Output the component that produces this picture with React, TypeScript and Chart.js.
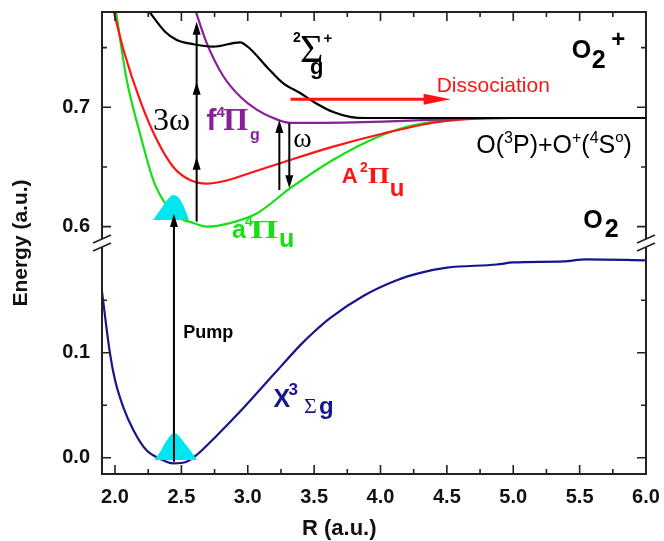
import React, { useEffect, useRef } from 'react';
import { Chart, registerables } from 'chart.js';

Chart.register(...registerables);

// ---------- axes ----------
const R_MIN = 1.902;
const R_MAX = 6.0;
const R_MAJOR_TICKS = [2.0, 2.5, 3.0, 3.5, 4.0, 4.5, 5.0, 5.5, 6.0];
const R_MINOR_TICKS = [2.25, 2.75, 3.25, 3.75, 4.25, 4.75, 5.25, 5.75];

const E_LOW_MIN = -0.0155;
const E_LOW_MAX = 0.2045;
const E_LOW_MAJOR = [0.0, 0.1];
const E_LOW_MINOR = [0.05, 0.15];

const E_HIGH_MIN = 0.5863;
const E_HIGH_MAX = 0.7798;
const E_HIGH_MAJOR = [0.6, 0.7];
const E_HIGH_MINOR = [0.65, 0.75];

// ---------- potential curves ----------
// X 3Σg (neutral O2 ground state, lower panel)
const X3SG_R = [1.9, 1.962, 2.0, 2.06, 2.138, 2.234, 2.339, 2.44, 2.54, 2.615, 2.766, 2.942, 3.1, 3.25, 3.394, 3.5, 3.62, 3.87, 4.122, 4.3, 4.5, 4.875, 5.0, 5.377, 5.55, 6.0];
const X3SG_E = [0.16, 0.0994, 0.074, 0.049, 0.0264, 0.0075, -0.001, -0.0053, -0.0038, 0.0026, 0.021, 0.044, 0.066, 0.087, 0.107, 0.12, 0.133, 0.154, 0.169, 0.176, 0.181, 0.184, 0.186, 0.187, 0.189, 0.188];

// a 4Πu (green)
const A4PU_R = [2.005, 2.088, 2.188, 2.288, 2.363, 2.44, 2.515, 2.565, 2.69, 2.866, 3.067, 3.318, 3.644, 3.896, 4.147, 4.398, 4.649, 5.0, 5.5, 6.0];
const A4PU_E = [0.782, 0.723, 0.678, 0.639, 0.622, 0.611, 0.6056, 0.604, 0.6, 0.603, 0.611, 0.632, 0.656, 0.671, 0.682, 0.688, 0.691, 0.691, 0.691, 0.691];

// A 2Πu (red)
const A2PU_R = [1.987, 2.064, 2.188, 2.314, 2.439, 2.565, 2.69, 2.816, 3.017, 3.268, 3.644, 4.02, 4.398, 4.649, 5.0, 5.5, 6.0];
const A2PU_E = [0.782, 0.748, 0.706, 0.673, 0.65, 0.639, 0.636, 0.638, 0.645, 0.654, 0.667, 0.678, 0.687, 0.69, 0.691, 0.691, 0.691];

// f 4Πg (purple)
const F4PG_R = [2.603, 2.69, 2.816, 2.942, 3.067, 3.192, 3.318, 3.52, 4.02, 4.52, 5.0, 6.0];
const F4PG_E = [0.782, 0.754, 0.726, 0.709, 0.698, 0.691, 0.687, 0.687, 0.688, 0.69, 0.691, 0.691];

// 2Σg+ (black)
const S2SG_R = [2.245, 2.377, 2.465, 2.59, 2.74, 2.942, 3.017, 3.142, 3.268, 3.394, 3.52, 3.644, 3.77, 3.896, 4.5, 5.0, 6.0];
const S2SG_E = [0.782, 0.7633, 0.7564, 0.7528, 0.7508, 0.7544, 0.749, 0.734, 0.72, 0.712, 0.703, 0.696, 0.692, 0.691, 0.691, 0.691, 0.691];

// vibrational wave packets (cyan)
const WP_LOW_R = [2.301, 2.339, 2.377, 2.414, 2.444, 2.475, 2.512, 2.565, 2.618];
const WP_LOW_E = [-0.0012, 0.0054, 0.014, 0.0207, 0.0235, 0.0216, 0.0159, 0.0073, -0.0022];
const WP_LOW_BASE = -0.0022;
const WP_HIGH_R = [2.286, 2.324, 2.362, 2.399, 2.437, 2.475, 2.505, 2.535, 2.557];
const WP_HIGH_E = [0.6056, 0.6115, 0.6173, 0.6232, 0.6265, 0.6249, 0.6198, 0.6123, 0.6056];
const WP_HIGH_BASE = 0.6056;

// ---------- arrows ----------
const V_ARROWS = [
  { r: 2.444, from: ['yLow', -0.0038], to: ['yHigh', 0.6105], heads: [0.6105], dir: -1 },
  { r: 2.615, from: ['yHigh', 0.6042], to: ['yHigh', 0.7717], heads: [0.6586, 0.7214, 0.7717], dir: -1 },
  { r: 3.238, from: ['yHigh', 0.6307], to: ['yHigh', 0.6893], heads: [0.6893], dir: -1 },
  { r: 3.313, from: ['yHigh', 0.6866], to: ['yHigh', 0.6322], heads: [0.6322], dir: 1 },
];
const DISSOC_ARROW = { e: 0.7067, from: 3.322, to: 4.528 };

// ---------- colours & fonts ----------
const NAVY = '#15158c';
const GREEN = '#14e014';
const RED = '#ff1414';
const PURPLE = '#8a1f9a';
const CYAN = '#00e6f0';
const BLACK = '#000000';
const SANS = '"Liberation Sans", Arial, sans-serif';
const SERIF = '"Liberation Serif", "Times New Roman", serif';
const B = (s: number) => `bold ${s}px ${SANS}`;
const N = (s: number) => `${s}px ${SANS}`;
const S = (s: number) => `${s}px ${SERIF}`;
const SB = (s: number) => `bold ${s}px ${SERIF}`;

type Seg = { t: string; f: string; dx?: number; dy?: number; sx?: number };
type Label = { r: number; e: number; axis: string; color: string; segs: Seg[] };

const LABELS: Label[] = [
  { r: 5.44, e: 0.741, axis: 'yHigh', color: BLACK, segs: [
    { t: 'O', f: B(25) }, { t: '2', f: B(25), dx: 20, dy: 10 }, { t: '+', f: B(24), dx: 39.5, dy: -11 } ] },
  { r: 5.528, e: 0.5987, axis: 'yHigh', color: BLACK, segs: [
    { t: 'O', f: B(25) }, { t: '2', f: B(25), dx: 21.5, dy: 8.5 } ] },
  { r: 3.394, e: 0.7379, axis: 'yHigh', color: BLACK, segs: [
    { t: '2', f: B(14), dx: -7, dy: -20 }, { t: 'Σ', f: S(40), dx: 0 }, { t: '+', f: B(15), dx: 23.5, dy: -19 }, { t: 'g', f: B(22), dx: 10, dy: 11.5 } ] },
  { r: 4.423, e: 0.713, axis: 'yHigh', color: RED, segs: [{ t: 'Dissociation', f: N(21) }] },
  { r: 4.7215, e: 0.6615, axis: 'yHigh', color: BLACK, segs: [
    { t: 'O(', f: N(25) }, { t: '3', f: N(16), dy: -10 }, { t: 'P)+O', f: N(25) }, { t: '+', f: N(16), dy: -10 },
    { t: '(', f: N(25) }, { t: '4', f: N(16), dy: -10 }, { t: 'S', f: N(25) }, { t: 'o', f: N(15), dy: -11 }, { t: ')', f: N(25) } ] },
  { r: 3.708, e: 0.6363, axis: 'yHigh', color: RED, segs: [
    { t: 'A', f: B(22) }, { t: '2', f: B(14), dx: 18.3, dy: -11.6 }, { t: 'Π', f: SB(23), dx: 26.3, sx: 1.2 }, { t: 'u', f: B(24), dx: 48, dy: 13 } ] },
  { r: 2.881, e: 0.5903, axis: 'yHigh', color: GREEN, segs: [
    { t: 'a', f: B(25) }, { t: '4', f: B(14), dx: 13, dy: -12 }, { t: 'Π', f: SB(25), dx: 18.5, sx: 1.4 }, { t: 'u', f: B(25), dx: 47, dy: 8.4 } ] },
  { r: 2.69, e: 0.681, axis: 'yHigh', color: PURPLE, segs: [
    { t: 'f', f: B(30) }, { t: '4', f: B(15), dx: 10, dy: -13.3 }, { t: 'Π', f: SB(32), dx: 16.7 }, { t: 'g', f: B(16), dx: 43.3, dy: 10 } ] },
  { r: 2.286, e: 0.681, axis: 'yHigh', color: BLACK, segs: [{ t: '3ω', f: S(32) }] },
  { r: 3.343, e: 0.667, axis: 'yHigh', color: BLACK, segs: [{ t: 'ω', f: S(28) }] },
  { r: 2.514, e: 0.1145, axis: 'yLow', color: BLACK, segs: [{ t: 'Pump', f: B(18) }] },
  { r: 3.193, e: 0.0486, axis: 'yLow', color: NAVY, segs: [
    { t: 'X', f: B(25) }, { t: '3', f: B(17), dx: 15, dy: -11.7 }, { t: 'Σ', f: S(22), dx: 30.5, dy: 6.3 }, { t: 'g', f: B(24), dx: 45.5, dy: 7.5 } ] },
];

const pts = (rs: number[], es: number[]) => rs.map((r, i) => ({ x: r, y: es[i] }));

function drawRich(ctx: CanvasRenderingContext2D, x0: number, y0: number, color: string, segs: Seg[]) {
  let cursor = x0;
  for (const s of segs) {
    ctx.font = s.f;
    const x = s.dx !== undefined ? x0 + s.dx : cursor;
    const y = y0 + (s.dy || 0);
    const sx = s.sx || 1;
    ctx.save();
    ctx.translate(x, y);
    ctx.scale(sx, 1);
    ctx.fillStyle = color;
    ctx.textAlign = 'left';
    ctx.textBaseline = 'alphabetic';
    ctx.fillText(s.t, 0, 0);
    ctx.restore();
    cursor = x + ctx.measureText(s.t).width * sx;
  }
}

function headV(ctx: CanvasRenderingContext2D, x: number, yTip: number, dir: number, w: number, h: number) {
  // dir -1: points up, +1: points down
  ctx.beginPath();
  ctx.moveTo(x, yTip);
  ctx.lineTo(x - w / 2, yTip - dir * h);
  ctx.lineTo(x + w / 2, yTip - dir * h);
  ctx.closePath();
  ctx.fill();
}

const overlay = {
  id: 'overlay',
  afterDatasetsDraw(chart: any) {
    const ctx: CanvasRenderingContext2D = chart.ctx;
    const xs = chart.scales.x;
    const yl = chart.scales.yLow;
    const yh = chart.scales.yHigh;
    const ca = chart.chartArea;
    const Y = (axis: string, v: number) => chart.scales[axis].getPixelForValue(v);
    const breakY = (yh.bottom + yl.top) / 2;

    ctx.save();
    // arrows
    ctx.strokeStyle = BLACK;
    ctx.fillStyle = BLACK;
    ctx.lineWidth = 2;
    for (const a of V_ARROWS) {
      const x = xs.getPixelForValue(a.r);
      const y1 = Y(a.from[0] as string, a.from[1] as number);
      const y2 = Y(a.to[0] as string, a.to[1] as number);
      ctx.beginPath();
      ctx.moveTo(x, y1);
      ctx.lineTo(x, y2 - a.dir * 4);
      ctx.stroke();
      for (const hv of a.heads) headV(ctx, x, Y(a.to[0] as string, hv), a.dir, 8, 13);
    }
    // dissociation arrow
    {
      const y = yh.getPixelForValue(DISSOC_ARROW.e);
      const x1 = xs.getPixelForValue(DISSOC_ARROW.from);
      const x2 = xs.getPixelForValue(DISSOC_ARROW.to);
      ctx.strokeStyle = RED;
      ctx.fillStyle = RED;
      ctx.lineWidth = 3;
      ctx.beginPath();
      ctx.moveTo(x1, y);
      ctx.lineTo(x2 - 20, y);
      ctx.stroke();
      ctx.beginPath();
      ctx.moveTo(x2, y);
      ctx.lineTo(x2 - 27, y - 5.5);
      ctx.lineTo(x2 - 27, y + 5.5);
      ctx.closePath();
      ctx.fill();
    }

    // labels
    for (const l of LABELS) {
      const x = xs.getPixelForValue(l.r);
      const y = Y(l.axis, l.e);
      drawRich(ctx, x, y, l.color, l.segs);
    }

    // frame with axis break
    ctx.strokeStyle = '#222';
    ctx.lineWidth = 2;
    const g = 4;
    ctx.beginPath();
    ctx.moveTo(ca.left, ca.top); ctx.lineTo(ca.right, ca.top);
    ctx.moveTo(ca.left, ca.bottom); ctx.lineTo(ca.right, ca.bottom);
    for (const x of [ca.left, ca.right]) {
      ctx.moveTo(x, ca.top - 1); ctx.lineTo(x, breakY - g);
      ctx.moveTo(x, breakY + g); ctx.lineTo(x, ca.bottom + 1);
    }
    ctx.stroke();
    ctx.lineWidth = 1.6;
    ctx.beginPath();
    for (const x of [ca.left, ca.right]) {
      for (const c of [breakY - g, breakY + g]) {
        ctx.moveTo(x - 9, c + 4); ctx.lineTo(x + 9, c - 4);
      }
    }
    ctx.stroke();

    // tick marks (inward)
    ctx.lineWidth = 1.6;
    ctx.beginPath();
    const xt = (vals: number[], len: number) => {
      for (const v of vals) {
        const x = xs.getPixelForValue(v);
        ctx.moveTo(x, ca.bottom); ctx.lineTo(x, ca.bottom - len);
        ctx.moveTo(x, ca.top); ctx.lineTo(x, ca.top + len);
      }
    };
    xt(R_MAJOR_TICKS.filter(v => v < R_MAX), 9);
    xt(R_MINOR_TICKS, 5);
    const yt = (scale: any, vals: number[], len: number) => {
      for (const v of vals) {
        const y = scale.getPixelForValue(v);
        ctx.moveTo(ca.left, y); ctx.lineTo(ca.left + len, y);
        ctx.moveTo(ca.right, y); ctx.lineTo(ca.right - len, y);
      }
    };
    yt(yl, E_LOW_MAJOR, 9); yt(yl, E_LOW_MINOR, 5);
    yt(yh, E_HIGH_MAJOR, 9); yt(yh, E_HIGH_MINOR, 5);
    ctx.stroke();

    // axis titles
    ctx.fillStyle = '#111';
    ctx.font = B(21);
    ctx.textBaseline = 'alphabetic';
    ctx.textAlign = 'center';
    ctx.save();
    ctx.translate(ca.left - 75, (ca.top + ca.bottom) / 2);
    ctx.rotate(-Math.PI / 2);
    ctx.fillText('Energy (a.u.)', 0, 0);
    ctx.restore();
    ctx.font = B(22);
    ctx.textAlign = 'left';
    ctx.fillText('R (a.u.)', ca.left + 200, ca.bottom + 61);
    ctx.restore();
  },
};

const tickFont = { family: SANS, size: 20, weight: 'bold' as const };

const noPad = (s: any) => {
  s.paddingTop = 0;
  s.paddingBottom = 0;
  s.paddingLeft = 0;
  s.paddingRight = 0;
};

export default function App() {
  const ref = useRef<HTMLCanvasElement>(null);
  useEffect(() => {
    if (!ref.current) return;
    const curve = (label: string, rs: number[], es: number[], color: string, axis: string, order: number) => ({
      label,
      data: pts(rs, es),
      borderColor: color,
      backgroundColor: color,
      borderWidth: 2.2,
      pointRadius: 0,
      cubicInterpolationMode: 'monotone' as const,
      fill: false,
      yAxisID: axis,
      order,
    });
    const chart = new Chart(ref.current, {
      type: 'line',
      data: {
        datasets: [
          {
            label: 'wave packet (X)',
            data: pts(WP_LOW_R, WP_LOW_E),
            borderWidth: 0,
            borderColor: CYAN,
            backgroundColor: CYAN,
            pointRadius: 0,
            tension: 0.3,
            fill: { value: WP_LOW_BASE },
            yAxisID: 'yLow',
            order: 0,
          } as any,
          {
            label: 'wave packet (a)',
            data: pts(WP_HIGH_R, WP_HIGH_E),
            borderWidth: 0,
            borderColor: CYAN,
            backgroundColor: CYAN,
            pointRadius: 0,
            tension: 0.3,
            fill: { value: WP_HIGH_BASE },
            yAxisID: 'yHigh',
            order: 0,
          } as any,
          curve('2Σg+', S2SG_R, S2SG_E, BLACK, 'yHigh', 1),
          curve('f4Πg', F4PG_R, F4PG_E, PURPLE, 'yHigh', 2),
          curve('A2Πu', A2PU_R, A2PU_E, RED, 'yHigh', 3),
          curve('a4Πu', A4PU_R, A4PU_E, GREEN, 'yHigh', 4),
          curve('X3Σg', X3SG_R, X3SG_E, NAVY, 'yLow', 5),
        ],
      },
      options: {
        animation: false,
        responsive: false,
        layout: { padding: { top: 12, right: 18, left: 0, bottom: 0 } },
        plugins: { legend: { display: false }, tooltip: { enabled: false } },
        scales: {
          x: {
            type: 'linear',
            position: 'bottom',
            min: R_MIN,
            max: R_MAX,
            grid: { display: false, drawTicks: false },
            border: { display: false },
            ticks: { font: tickFont, color: '#111', padding: 11, maxRotation: 0, callback: (v: any) => Number(v).toFixed(1) },
            afterBuildTicks: (s: any) => { s.ticks = R_MAJOR_TICKS.map(v => ({ value: v })); },
            afterFit: (s: any) => { s.height = 67; noPad(s); },
          },
          yLow: {
            type: 'linear',
            position: 'left',
            stack: 'energy',
            stackWeight: 1,
            min: E_LOW_MIN,
            max: E_LOW_MAX,
            grid: { display: false, drawTicks: false },
            border: { display: false },
            ticks: { font: tickFont, color: '#111', padding: 12, callback: (v: any) => Number(v).toFixed(1) },
            afterBuildTicks: (s: any) => { s.ticks = E_LOW_MAJOR.map(v => ({ value: v })); },
            afterFit: (s: any) => { s.width = 102; noPad(s); },
          },
          yHigh: {
            type: 'linear',
            position: 'left',
            stack: 'energy',
            stackWeight: 1,
            min: E_HIGH_MIN,
            max: E_HIGH_MAX,
            grid: { display: false, drawTicks: false },
            border: { display: false },
            ticks: { font: tickFont, color: '#111', padding: 12, callback: (v: any) => Number(v).toFixed(1) },
            afterBuildTicks: (s: any) => { s.ticks = E_HIGH_MAJOR.map(v => ({ value: v })); },
            afterFit: (s: any) => { s.width = 102; noPad(s); },
          },
        },
      } as any,
      plugins: [overlay],
    });
    return () => chart.destroy();
  }, []);
  return (
    <div style={{ position: 'fixed', left: 0, top: 0, width: 664, height: 541, background: '#fff' }}>
      <canvas ref={ref} width={664} height={541} style={{ display: 'block' }} />
    </div>
  );
}
